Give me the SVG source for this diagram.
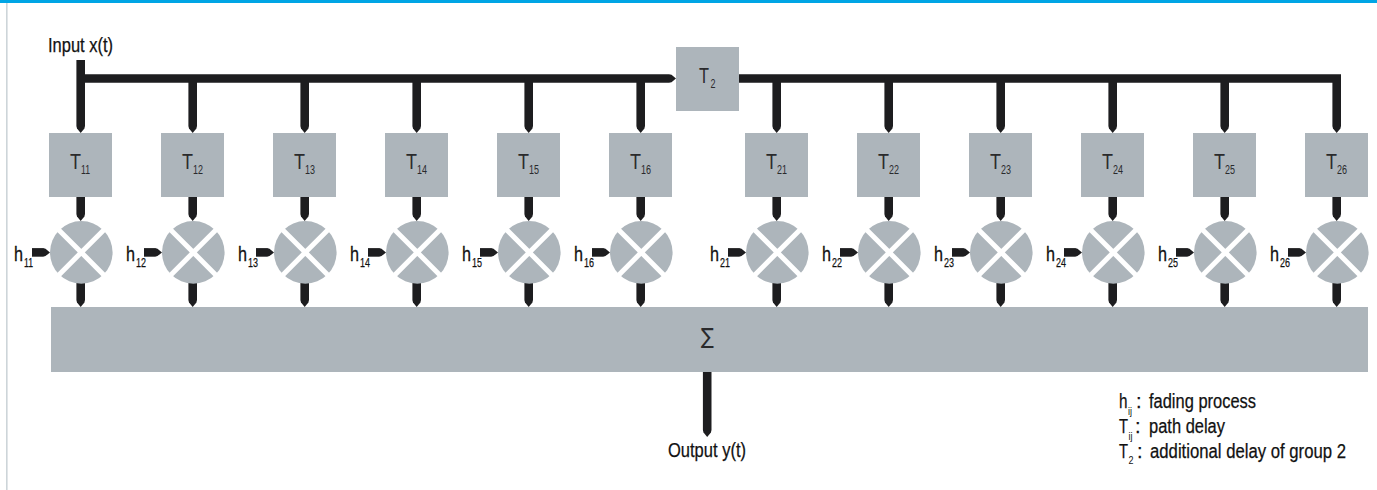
<svg xmlns="http://www.w3.org/2000/svg" width="1377" height="490" viewBox="0 0 1377 490">
<style>
text{font-family:"Liberation Sans",Arial,sans-serif;fill:#111;}
.box{fill:#adb5bb;}
.w{stroke:#1d1d1f;stroke-width:8.6;fill:none;marker-end:url(#tip);}
.p{stroke:#1d1d1f;stroke-width:8.6;fill:none;marker-end:url(#tip);}
.t{font-size:22px;fill:#2a2a2c;}
.s{font-size:13px;fill:#2a2a2c;}
.h{font-size:20px;stroke:#111;stroke-width:.3;}
.hs{font-size:13px;stroke:#111;stroke-width:.25;}
.l{font-size:20px;stroke:#111;stroke-width:.25;}
.ls{font-size:11px;fill:#111;opacity:.99;}
</style>
<defs>
<marker id="tip" markerUnits="userSpaceOnUse" markerWidth="8" markerHeight="9" refX="0" refY="4.3" orient="auto" viewBox="0 0 8 8.6"><path d="M0 0L2.5 .6L7 4.3L2.5 8L0 8.6Z" fill="#1d1d1f"/></marker>
<g id="mult"><circle cx="0" cy="0" r="31.3" fill="#adb5bb"/><path d="M-24 -24L24 24M-24 24L24 -24" stroke="#fff" stroke-width="5" fill="none"/></g>
</defs>
<rect width="1377" height="490" fill="#fff"/>
<rect x="0" y="0" width="1377" height="3" fill="#00a5e5"/>
<rect x="6" y="3" width="1.6" height="487" fill="#cdd5d9"/>

<g id="connectors">
<path class="p" d="M80.7 78.5H669"/>
<path class="p" d="M738 78.5H1336.7V126"/>
<path class="p" d="M80.7 60V126"/>
<line class="w" x1="192.7" y1="78" x2="192.7" y2="126"/><line class="w" x1="304.7" y1="78" x2="304.7" y2="126"/><line class="w" x1="416.7" y1="78" x2="416.7" y2="126"/><line class="w" x1="528.7" y1="78" x2="528.7" y2="126"/><line class="w" x1="640.7" y1="78" x2="640.7" y2="126"/>
<line class="w" x1="776.7" y1="78" x2="776.7" y2="126"/><line class="w" x1="888.7" y1="78" x2="888.7" y2="126"/><line class="w" x1="1000.7" y1="78" x2="1000.7" y2="126"/><line class="w" x1="1112.7" y1="78" x2="1112.7" y2="126"/><line class="w" x1="1224.7" y1="78" x2="1224.7" y2="126"/>
<line class="w" x1="80.7" y1="197" x2="80.7" y2="214"/><line class="w" x1="192.7" y1="197" x2="192.7" y2="214"/><line class="w" x1="304.7" y1="197" x2="304.7" y2="214"/><line class="w" x1="416.7" y1="197" x2="416.7" y2="214"/><line class="w" x1="528.7" y1="197" x2="528.7" y2="214"/><line class="w" x1="640.7" y1="197" x2="640.7" y2="214"/><line class="w" x1="776.7" y1="197" x2="776.7" y2="214"/><line class="w" x1="888.7" y1="197" x2="888.7" y2="214"/><line class="w" x1="1000.7" y1="197" x2="1000.7" y2="214"/><line class="w" x1="1112.7" y1="197" x2="1112.7" y2="214"/><line class="w" x1="1224.7" y1="197" x2="1224.7" y2="214"/><line class="w" x1="1336.7" y1="197" x2="1336.7" y2="214"/>
<line class="w" x1="80.7" y1="283" x2="80.7" y2="300"/><line class="w" x1="192.7" y1="283" x2="192.7" y2="300"/><line class="w" x1="304.7" y1="283" x2="304.7" y2="300"/><line class="w" x1="416.7" y1="283" x2="416.7" y2="300"/><line class="w" x1="528.7" y1="283" x2="528.7" y2="300"/><line class="w" x1="640.7" y1="283" x2="640.7" y2="300"/><line class="w" x1="776.7" y1="283" x2="776.7" y2="300"/><line class="w" x1="888.7" y1="283" x2="888.7" y2="300"/><line class="w" x1="1000.7" y1="283" x2="1000.7" y2="300"/><line class="w" x1="1112.7" y1="283" x2="1112.7" y2="300"/><line class="w" x1="1224.7" y1="283" x2="1224.7" y2="300"/><line class="w" x1="1336.7" y1="283" x2="1336.7" y2="300"/>
<line class="w" x1="32" y1="252.4" x2="43" y2="252.4"/><line class="w" x1="144" y1="252.4" x2="155" y2="252.4"/><line class="w" x1="256" y1="252.4" x2="267" y2="252.4"/><line class="w" x1="368" y1="252.4" x2="379" y2="252.4"/><line class="w" x1="480" y1="252.4" x2="491" y2="252.4"/><line class="w" x1="592" y1="252.4" x2="603" y2="252.4"/><line class="w" x1="728" y1="252.4" x2="739" y2="252.4"/><line class="w" x1="840" y1="252.4" x2="851" y2="252.4"/><line class="w" x1="952" y1="252.4" x2="963" y2="252.4"/><line class="w" x1="1064" y1="252.4" x2="1075" y2="252.4"/><line class="w" x1="1176" y1="252.4" x2="1187" y2="252.4"/><line class="w" x1="1288" y1="252.4" x2="1299" y2="252.4"/>
<line class="w" x1="707.2" y1="372" x2="707.2" y2="430"/>
</g>

<g id="input"><text class="l" x="48" y="52" textLength="65" lengthAdjust="spacingAndGlyphs">Input x(t)</text></g>
<g id="T2"><rect class="box" x="676" y="47" width="63" height="64"/><text class="t" x="699" y="83" textLength="10" lengthAdjust="spacingAndGlyphs">T</text><text class="s" x="710.5" y="88" textLength="5" lengthAdjust="spacingAndGlyphs">2</text></g>

<g id="T11"><rect class="box" x="49" y="133" width="63" height="64"/><text class="t" x="70" y="169" textLength="11" lengthAdjust="spacingAndGlyphs">T</text><text class="s" x="81" y="174" textLength="9" lengthAdjust="spacingAndGlyphs">11</text></g>
<g id="T12"><rect class="box" x="161" y="133" width="63" height="64"/><text class="t" x="182" y="169" textLength="11" lengthAdjust="spacingAndGlyphs">T</text><text class="s" x="193" y="174" textLength="10" lengthAdjust="spacingAndGlyphs">12</text></g>
<g id="T13"><rect class="box" x="273" y="133" width="63" height="64"/><text class="t" x="294" y="169" textLength="11" lengthAdjust="spacingAndGlyphs">T</text><text class="s" x="305" y="174" textLength="10" lengthAdjust="spacingAndGlyphs">13</text></g>
<g id="T14"><rect class="box" x="385" y="133" width="63" height="64"/><text class="t" x="406" y="169" textLength="11" lengthAdjust="spacingAndGlyphs">T</text><text class="s" x="417" y="174" textLength="10" lengthAdjust="spacingAndGlyphs">14</text></g>
<g id="T15"><rect class="box" x="497" y="133" width="63" height="64"/><text class="t" x="518" y="169" textLength="11" lengthAdjust="spacingAndGlyphs">T</text><text class="s" x="529" y="174" textLength="10" lengthAdjust="spacingAndGlyphs">15</text></g>
<g id="T16"><rect class="box" x="609" y="133" width="63" height="64"/><text class="t" x="630" y="169" textLength="11" lengthAdjust="spacingAndGlyphs">T</text><text class="s" x="641" y="174" textLength="10" lengthAdjust="spacingAndGlyphs">16</text></g>
<g id="T21"><rect class="box" x="745" y="133" width="63" height="64"/><text class="t" x="766" y="169" textLength="11" lengthAdjust="spacingAndGlyphs">T</text><text class="s" x="777" y="174" textLength="10" lengthAdjust="spacingAndGlyphs">21</text></g>
<g id="T22"><rect class="box" x="857" y="133" width="63" height="64"/><text class="t" x="878" y="169" textLength="11" lengthAdjust="spacingAndGlyphs">T</text><text class="s" x="889" y="174" textLength="10" lengthAdjust="spacingAndGlyphs">22</text></g>
<g id="T23"><rect class="box" x="969" y="133" width="63" height="64"/><text class="t" x="990" y="169" textLength="11" lengthAdjust="spacingAndGlyphs">T</text><text class="s" x="1001" y="174" textLength="10" lengthAdjust="spacingAndGlyphs">23</text></g>
<g id="T24"><rect class="box" x="1081" y="133" width="63" height="64"/><text class="t" x="1102" y="169" textLength="11" lengthAdjust="spacingAndGlyphs">T</text><text class="s" x="1113" y="174" textLength="10" lengthAdjust="spacingAndGlyphs">24</text></g>
<g id="T25"><rect class="box" x="1193" y="133" width="63" height="64"/><text class="t" x="1214" y="169" textLength="11" lengthAdjust="spacingAndGlyphs">T</text><text class="s" x="1225" y="174" textLength="10" lengthAdjust="spacingAndGlyphs">25</text></g>
<g id="T26"><rect class="box" x="1305" y="133" width="63" height="64"/><text class="t" x="1326" y="169" textLength="11" lengthAdjust="spacingAndGlyphs">T</text><text class="s" x="1337" y="174" textLength="10" lengthAdjust="spacingAndGlyphs">26</text></g>

<g id="M11"><use href="#mult" x="81.3" y="252.4"/><text class="h" x="14" y="261" textLength="9" lengthAdjust="spacingAndGlyphs">h</text><text class="hs" x="24" y="267" textLength="9" lengthAdjust="spacingAndGlyphs">11</text></g>
<g id="M12"><use href="#mult" x="193.3" y="252.4"/><text class="h" x="126" y="261" textLength="9" lengthAdjust="spacingAndGlyphs">h</text><text class="hs" x="136" y="267" textLength="10" lengthAdjust="spacingAndGlyphs">12</text></g>
<g id="M13"><use href="#mult" x="305.3" y="252.4"/><text class="h" x="238" y="261" textLength="9" lengthAdjust="spacingAndGlyphs">h</text><text class="hs" x="248" y="267" textLength="10" lengthAdjust="spacingAndGlyphs">13</text></g>
<g id="M14"><use href="#mult" x="417.3" y="252.4"/><text class="h" x="350" y="261" textLength="9" lengthAdjust="spacingAndGlyphs">h</text><text class="hs" x="360" y="267" textLength="10" lengthAdjust="spacingAndGlyphs">14</text></g>
<g id="M15"><use href="#mult" x="529.3" y="252.4"/><text class="h" x="462" y="261" textLength="9" lengthAdjust="spacingAndGlyphs">h</text><text class="hs" x="472" y="267" textLength="10" lengthAdjust="spacingAndGlyphs">15</text></g>
<g id="M16"><use href="#mult" x="641.3" y="252.4"/><text class="h" x="574" y="261" textLength="9" lengthAdjust="spacingAndGlyphs">h</text><text class="hs" x="584" y="267" textLength="10" lengthAdjust="spacingAndGlyphs">16</text></g>
<g id="M21"><use href="#mult" x="777.3" y="252.4"/><text class="h" x="710" y="261" textLength="9" lengthAdjust="spacingAndGlyphs">h</text><text class="hs" x="720" y="267" textLength="10" lengthAdjust="spacingAndGlyphs">21</text></g>
<g id="M22"><use href="#mult" x="889.3" y="252.4"/><text class="h" x="822" y="261" textLength="9" lengthAdjust="spacingAndGlyphs">h</text><text class="hs" x="832" y="267" textLength="10" lengthAdjust="spacingAndGlyphs">22</text></g>
<g id="M23"><use href="#mult" x="1001.3" y="252.4"/><text class="h" x="934" y="261" textLength="9" lengthAdjust="spacingAndGlyphs">h</text><text class="hs" x="944" y="267" textLength="10" lengthAdjust="spacingAndGlyphs">23</text></g>
<g id="M24"><use href="#mult" x="1113.3" y="252.4"/><text class="h" x="1046" y="261" textLength="9" lengthAdjust="spacingAndGlyphs">h</text><text class="hs" x="1056" y="267" textLength="10" lengthAdjust="spacingAndGlyphs">24</text></g>
<g id="M25"><use href="#mult" x="1225.3" y="252.4"/><text class="h" x="1158" y="261" textLength="9" lengthAdjust="spacingAndGlyphs">h</text><text class="hs" x="1168" y="267" textLength="10" lengthAdjust="spacingAndGlyphs">25</text></g>
<g id="M26"><use href="#mult" x="1337.3" y="252.4"/><text class="h" x="1270" y="261" textLength="9" lengthAdjust="spacingAndGlyphs">h</text><text class="hs" x="1280" y="267" textLength="10" lengthAdjust="spacingAndGlyphs">26</text></g>

<g id="sum"><rect class="box" x="51" y="307" width="1317" height="65"/><text x="701" y="344" font-size="22" style="font-family:'DejaVu Sans',sans-serif;fill:#2a2a2c" textLength="13" lengthAdjust="spacingAndGlyphs">∑</text></g>
<g id="output"><text class="l" x="668" y="457" textLength="78" lengthAdjust="spacingAndGlyphs">Output y(t)</text></g>

<g id="legend">
<text class="l" x="1119" y="408" textLength="8.5" lengthAdjust="spacingAndGlyphs">h</text><text class="ls" x="1128" y="415" textLength="4" lengthAdjust="spacingAndGlyphs">ij</text><text class="l" x="1136" y="408">:</text><text class="l" x="1149" y="408" textLength="107" lengthAdjust="spacingAndGlyphs">fading process</text>
<text class="l" x="1119" y="433" textLength="9" lengthAdjust="spacingAndGlyphs">T</text><text class="ls" x="1128.5" y="440" textLength="4" lengthAdjust="spacingAndGlyphs">ij</text><text class="l" x="1135" y="433">:</text><text class="l" x="1149" y="433" textLength="76" lengthAdjust="spacingAndGlyphs">path delay</text>
<text class="l" x="1119" y="458" textLength="9" lengthAdjust="spacingAndGlyphs">T</text><text class="ls" x="1128.5" y="464" textLength="5" lengthAdjust="spacingAndGlyphs">2</text><text class="l" x="1137" y="458">:</text><text class="l" x="1150" y="458" textLength="196" lengthAdjust="spacingAndGlyphs">additional delay of group 2</text>
</g>
</svg>
